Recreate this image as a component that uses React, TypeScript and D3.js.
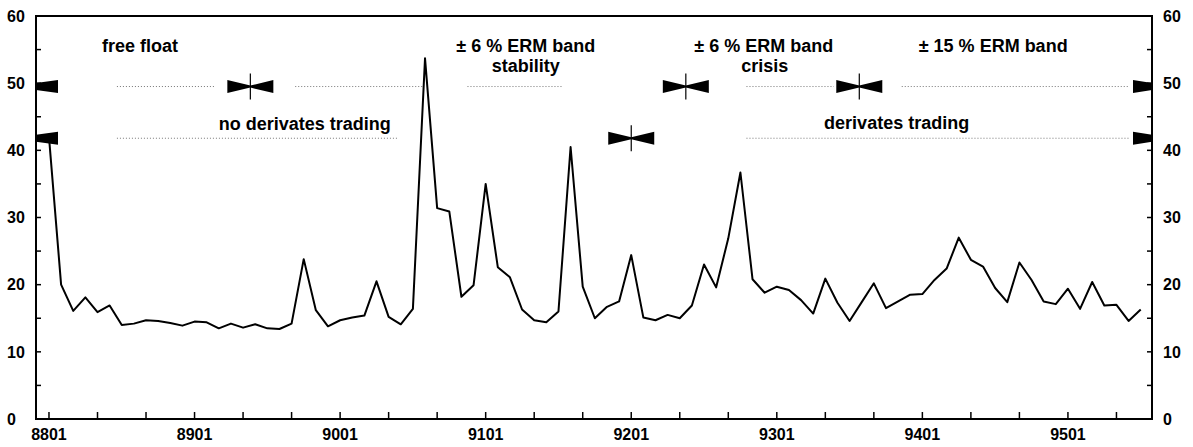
import { useEffect, useRef } from 'react'
import * as d3 from 'd3'

// monthly volatility, 8801 .. 9507
const startYear = 88
const volatility = [
  42.0, 20.0, 16.1, 18.1, 15.9, 16.9, 14.0, 14.2, 14.7, 14.6, 14.3, 13.9,
  14.5, 14.4, 13.5, 14.2, 13.6, 14.1, 13.5, 13.4, 14.2, 23.8, 16.2, 13.8,
  14.7, 15.1, 15.4, 20.5, 15.2, 14.1, 16.4, 53.7, 31.4, 30.9, 18.2, 19.9,
  35.0, 22.6, 21.1, 16.3, 14.7, 14.4, 16.0, 40.5, 19.7, 15.0, 16.7, 17.5,
  24.4, 15.1, 14.7, 15.5, 15.0, 16.9, 23.0, 19.6, 26.9, 36.7, 20.8, 18.8,
  19.7, 19.2, 17.7, 15.7, 20.9, 17.3, 14.6, 17.4, 20.2, 16.5, 17.5, 18.5,
  18.6, 20.7, 22.4, 27.0, 23.7, 22.7, 19.5, 17.4, 23.3, 20.7, 17.5, 17.1,
  19.4, 16.4, 20.4, 16.9, 17.0, 14.6, 16.3
]

const xTickLabels = ['8801', '8901', '9001', '9101', '9201', '9301', '9401', '9501']
const yTickValues = [0, 10, 20, 30, 40, 50, 60]

// regime changes (month index) for the two annotation rows
const regimeBreaks = [16.6, 52.5, 66.8]
const tradingBreaks = [48]
const regimeTexts = ['free float', '± 6 % ERM band', 'stability', '± 6 % ERM band', 'crisis', '± 15 % ERM band']
const tradingTexts = ['no derivates trading', 'derivates trading']

export default function App() {
  const ref = useRef<SVGSVGElement>(null)

  useEffect(() => {
    const width = 1193, height = 447
    const margin = { top: 16, right: 41, bottom: 28, left: 36 }
    const svg = d3.select(ref.current)
    svg.selectAll('*').remove()
    svg.attr('width', width).attr('height', height).attr('viewBox', [0, 0, width, height])

    const x = d3.scaleLinear().domain([-1.07, 90.93]).range([margin.left, width - margin.right])
    const y = d3.scaleLinear().domain([0, 60]).range([height - margin.bottom, margin.top])
    const font = '"Liberation Sans", Arial, Helvetica, sans-serif'

    // frame
    svg.append('rect')
      .attr('x', x.range()[0]).attr('y', y.range()[1])
      .attr('width', x.range()[1] - x.range()[0])
      .attr('height', y.range()[0] - y.range()[1])
      .attr('fill', 'none').attr('stroke', '#000').attr('stroke-width', 2)

    // y ticks both sides, inward
    const yMinor = d3.range(0, 61, 5)
    const [x0, x1] = x.range()
    svg.append('g').selectAll('line').data(yMinor).join('line')
      .attr('x1', x0).attr('x2', x0 + 5).attr('y1', d => y(d)).attr('y2', d => y(d))
      .attr('stroke', '#000').attr('stroke-width', 1.5)
    svg.append('g').selectAll('line').data(yMinor).join('line')
      .attr('x1', x1).attr('x2', x1 - 5).attr('y1', d => y(d)).attr('y2', d => y(d))
      .attr('stroke', '#000').attr('stroke-width', 1.5)

    const tickText = (g: any) => g
      .attr('font-family', font).attr('font-weight', 'bold').attr('font-size', 16).attr('fill', '#000')

    svg.append('g').call(tickText).selectAll('text').data(yTickValues).join('text')
      .attr('x', 7).attr('y', d => y(d)).attr('dy', '0.36em').text(d => d)
    svg.append('g').call(tickText).selectAll('text').data(yTickValues).join('text')
      .attr('x', x1 + 11).attr('y', d => y(d)).attr('dy', '0.36em').text(d => d)

    // x ticks every 4 months, inward
    const xMinor = d3.range(0, 91, 4)
    svg.append('g').selectAll('line').data(xMinor).join('line')
      .attr('x1', d => x(d)).attr('x2', d => x(d))
      .attr('y1', y(0)).attr('y2', y(0) - 7)
      .attr('stroke', '#000').attr('stroke-width', 1.5)
    svg.append('g').call(tickText).attr('text-anchor', 'middle')
      .selectAll('text').data(xTickLabels).join('text')
      .attr('x', d => x((+d.slice(0, 2) - startYear) * 12 + (+d.slice(2) - 1)))
      .attr('y', 440).text(d => d)

    // annotation rows
    const row1 = y(49.5), row2 = y(41.8)
    const dotted = (g: any, y0: number, segs: number[][]) => g.selectAll('line').data(segs).join('line')
      .attr('x1', (d: number[]) => x(d[0])).attr('x2', (d: number[]) => x(d[1]))
      .attr('y1', y0).attr('y2', y0)
      .attr('stroke', '#777').attr('stroke-width', 1).attr('stroke-dasharray', '1 2')
    svg.append('g').call(dotted, row1, [[5.6, 13.7], [20.3, 30.8], [34.5, 42.3], [57.5, 64.7], [70.3, 89.0]])
    svg.append('g').call(dotted, row2, [[5.6, 28.7], [57.5, 89.0]])

    const marks = svg.append('g').attr('fill', '#000')
    const leftEnd = (yy: number) => marks.append('path')
      .attr('d', `M${x0},${yy - 3.5}L${x0 + 22},${yy - 6.5}L${x0 + 22},${yy + 6.5}L${x0},${yy + 3.5}Z`)
    const rightEnd = (yy: number) => marks.append('path')
      .attr('d', `M${x1},${yy - 3.5}L${x1 - 19},${yy - 6.5}L${x1 - 19},${yy + 6.5}L${x1},${yy + 3.5}Z`)
    ;[row1, row2].forEach(r => { leftEnd(r); rightEnd(r) })

    const bowtie = (m: number, yy: number) => {
      const cx = x(m)
      marks.append('path')
        .attr('d', `M${cx - 23},${yy - 6.5}L${cx},${yy - 1}L${cx + 23},${yy - 6.5}L${cx + 23},${yy + 6.5}L${cx},${yy + 1}L${cx - 23},${yy + 6.5}Z`)
      marks.append('line')
        .attr('x1', cx).attr('x2', cx).attr('y1', yy - 13).attr('y2', yy + 13)
        .attr('stroke', '#000').attr('stroke-width', 1.2)
    }
    regimeBreaks.forEach(m => bowtie(m, row1))
    tradingBreaks.forEach(m => bowtie(m, row2))

    // annotation labels
    const lab = svg.append('g').attr('font-family', font).attr('font-weight', 'bold')
      .attr('font-size', 18).attr('fill', '#000')
    const put = (t: string, m: number, yy: number, anchor = 'start') =>
      lab.append('text').attr('x', x(m)).attr('y', yy).attr('text-anchor', anchor).text(t)
    put(regimeTexts[0], 4.37, 52)
    put(regimeTexts[1], 39.3, 52, 'middle')
    put(regimeTexts[2], 39.3, 72, 'middle')
    put(regimeTexts[3], 53.2, 52)
    put(regimeTexts[4], 59.0, 72, 'middle')
    put(regimeTexts[5], 71.7, 52)
    put(tradingTexts[0], 14.0, 130)
    put(tradingTexts[1], 63.9, 129)

    // volatility line
    const line = d3.line<number>().x((_, i) => x(i)).y(d => y(d))
    svg.append('path').datum(volatility)
      .attr('fill', 'none').attr('stroke', '#000').attr('stroke-width', 2)
      .attr('stroke-linejoin', 'round').attr('d', line)
  }, [])

  return <svg ref={ref} style={{ position: 'absolute', left: 0, top: 0, background: '#fff' }} />
}
